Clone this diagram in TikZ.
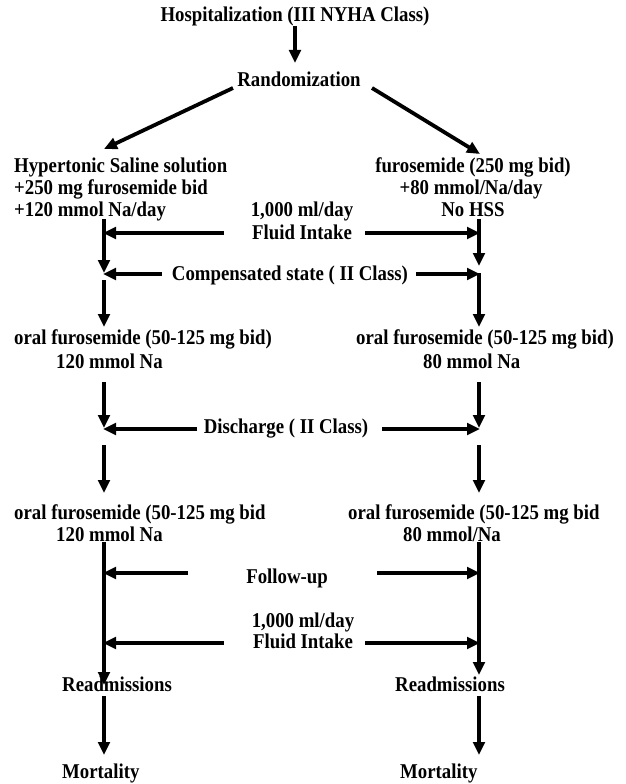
\documentclass[tikz,border=0pt]{standalone}
\usepackage{fontspec}
\setmainfont{Liberation Serif}
\usetikzlibrary{arrows.meta}
\tikzset{
  lbl/.style={inner sep=0pt, yscale=1.12, font=\fontsize{18.8}{22}\selectfont\bfseries},
  arr/.style={line width=3.8pt, -{Triangle[length=13pt,width=11.5pt]}}
}
\begin{document}
\begin{tikzpicture}[x=1pt,y=-1pt]
\useasboundingbox (0,0) rectangle (626,784);
% texts
\node[lbl,anchor=base] (hosp) at (295,22) {Hospitalization (III NYHA Class)};
\node[lbl,anchor=base] (rand) at (299,86) {Randomization};
\node[lbl,anchor=base west] (hyp1) at (14,172) {Hypertonic Saline solution};
\node[lbl,anchor=base west] (hyp2) at (14,194) {+250 mg furosemide bid};
\node[lbl,anchor=base west] (hyp3) at (14,216) {+120 mmol Na/day};
\node[lbl,anchor=base] (fur1) at (473,172) {furosemide (250 mg bid)};
\node[lbl,anchor=base] (fur2) at (471,194) {+80 mmol/Na/day};
\node[lbl,anchor=base] (nohss) at (473,216) {No HSS};
\node[lbl,anchor=base] (fia) at (302,216) {1,000 ml/day};
\node[lbl,anchor=base] (fib) at (302,239) {Fluid Intake};
\node[lbl,anchor=base] (comp) at (290,280) {Compensated state ( II Class)};
\node[lbl,anchor=base west] (oral1L) at (14,344) {oral furosemide (50-125 mg bid)};
\node[lbl,anchor=base west] (na1L) at (56,368) {120 mmol Na};
\node[lbl,anchor=base west] (oral1R) at (356,344) {oral furosemide (50-125 mg bid)};
\node[lbl,anchor=base west] (na1R) at (423,368) {80 mmol Na};
\node[lbl,anchor=base] (disc) at (286,433) {Discharge ( II Class)};
\node[lbl,anchor=base west] (oral2L) at (14,519) {oral furosemide (50-125 mg bid};
\node[lbl,anchor=base west] (na2L) at (56,541) {120 mmol Na};
\node[lbl,anchor=base west] (oral2R) at (348,519) {oral furosemide (50-125 mg bid};
\node[lbl,anchor=base west] (na2R) at (403,541) {80 mmol/Na};
\node[lbl,anchor=base] (follow) at (287,583) {Follow-up};
\node[lbl,anchor=base] (fic) at (303,627) {1,000 ml/day};
\node[lbl,anchor=base] (fid) at (303,648) {Fluid Intake};
\node[lbl,anchor=base west] (readL) at (62,691) {Readmissions};
\node[lbl,anchor=base west] (readR) at (395,691) {Readmissions};
\node[lbl,anchor=base west] (mortL) at (62,778) {Mortality};
\node[lbl,anchor=base west] (mortR) at (400,778) {Mortality};
% coordinates
\coordinate (h0) at (295,26); \coordinate (h1) at (295,63);
\coordinate (dl0) at (233,88); \coordinate (dl1) at (104,149);
\coordinate (dr0) at (372,88); \coordinate (dr1) at (480,154);
% left column
\coordinate (L1a) at (104,219); \coordinate (L1b) at (104,273);
\coordinate (L2a) at (104,280); \coordinate (L2b) at (104,327);
\coordinate (L3a) at (104,382); \coordinate (L3b) at (104,428);
\coordinate (L4a) at (104,445); \coordinate (L4b) at (104,493);
\coordinate (L5a) at (104,542); \coordinate (L5b) at (104,685);
\coordinate (L6a) at (104,696); \coordinate (L6b) at (104,755);
% right column
\coordinate (R1a) at (479,219); \coordinate (R1b) at (479,266);
\coordinate (R2a) at (479,273); \coordinate (R2b) at (479,327);
\coordinate (R3a) at (479,382); \coordinate (R3b) at (479,428);
\coordinate (R4a) at (479,445); \coordinate (R4b) at (479,493);
\coordinate (R5a) at (479,542); \coordinate (R5b) at (479,675);
\coordinate (R6a) at (479,696); \coordinate (R6b) at (479,755);
% horizontal arrow start/ends
\coordinate (f1l) at (224,233); \coordinate (f1lt) at (103,233);
\coordinate (f1r) at (365,233); \coordinate (f1rt) at (480,233);
\coordinate (c1l) at (162,274); \coordinate (c1lt) at (103,274);
\coordinate (c1r) at (416,274); \coordinate (c1rt) at (480,274);
\coordinate (d1l) at (197,429); \coordinate (d1lt) at (103,429);
\coordinate (d1r) at (382,429); \coordinate (d1rt) at (480,429);
\coordinate (u1l) at (188,573); \coordinate (u1lt) at (103,573);
\coordinate (u1r) at (377,573); \coordinate (u1rt) at (480,573);
\coordinate (f2l) at (224,643); \coordinate (f2lt) at (103,643);
\coordinate (f2r) at (365,643); \coordinate (f2rt) at (480,643);
% connectors
\draw[arr] (h0) -- (h1);
\draw[arr] (dl0) -- (dl1);
\draw[arr] (dr0) -- (dr1);
\foreach \s in {1,...,6} {
  \draw[arr] (L\s a) -- (L\s b);
  \draw[arr] (R\s a) -- (R\s b);
}
\foreach \p in {f1,c1,d1,u1,f2} {
  \draw[arr] (\p l) -- (\p lt);
  \draw[arr] (\p r) -- (\p rt);
}
\end{tikzpicture}
\end{document}
